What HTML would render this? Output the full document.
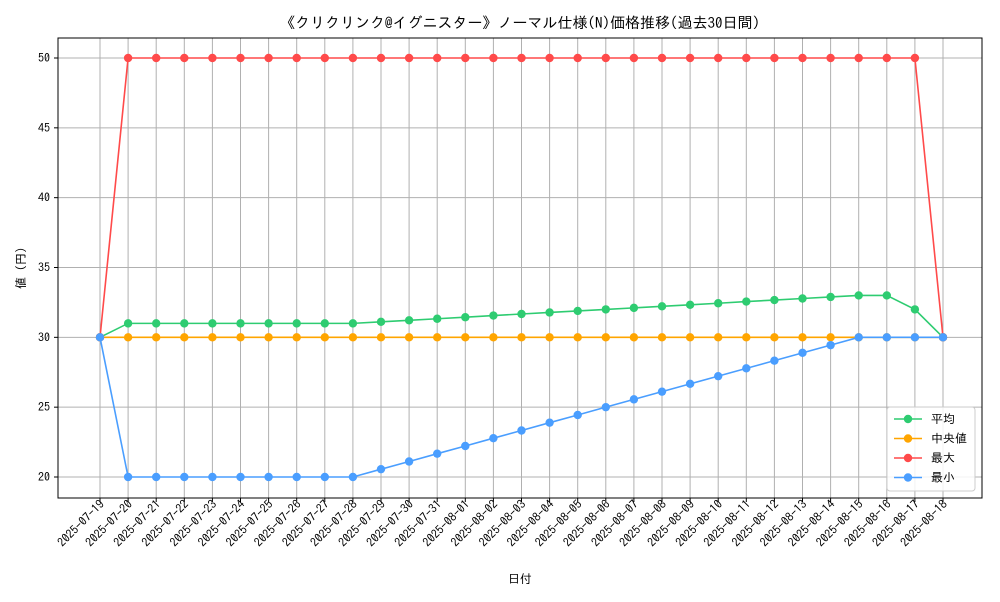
<!DOCTYPE html>
<html><head><meta charset="utf-8"><style>
body{margin:0;background:#fff;font-family:"IPAGothic","Noto Sans CJK JP",sans-serif;}
svg text{font-family:"IPAGothic","Noto Sans CJK JP",sans-serif;fill:#000;}
</style></head><body>
<svg id="chart" width="1000" height="600" xmlns="http://www.w3.org/2000/svg">
<rect width="1000" height="600" fill="#fff"/>
<text x="520" y="28" text-anchor="middle" font-size="15">《クリクリンク@イグニスター》ノーマル仕様(N)価格推移(過去30日間)</text>
<g id="grid"></g>
<g id="series"></g>
<rect x="58" y="38" width="924" height="460" fill="none" stroke="#000" stroke-width="1"/>
<g id="axes"></g>
<text x="520" y="583" text-anchor="middle" font-size="12">日付</text>
<text transform="translate(25,268) rotate(-90)" text-anchor="middle" font-size="12">値 (円)</text>
<g id="legend"></g>
</svg>
<script>
const dates=["2025-07-19","2025-07-20","2025-07-21","2025-07-22","2025-07-23","2025-07-24","2025-07-25","2025-07-26","2025-07-27","2025-07-28","2025-07-29","2025-07-30","2025-07-31","2025-08-01","2025-08-02","2025-08-03","2025-08-04","2025-08-05","2025-08-06","2025-08-07","2025-08-08","2025-08-09","2025-08-10","2025-08-11","2025-08-12","2025-08-13","2025-08-14","2025-08-15","2025-08-16","2025-08-17","2025-08-18"];
const avgVals=[30,31,31,31,31,31,31,31,31,31,31.11,31.22,31.33,31.44,31.56,31.67,31.78,31.89,32,32.11,32.22,32.33,32.44,32.56,32.67,32.78,32.89,33,33,32,30];
const medVals=[30,30,30,30,30,30,30,30,30,30,30,30,30,30,30,30,30,30,30,30,30,30,30,30,30,30,30,30,30,30,30];
const maxVals=[30,50,50,50,50,50,50,50,50,50,50,50,50,50,50,50,50,50,50,50,50,50,50,50,50,50,50,50,50,50,30];
const minVals=[30,20,20,20,20,20,20,20,20,20,20.56,21.11,21.67,22.22,22.78,23.33,23.89,24.44,25,25.56,26.11,26.67,27.22,27.78,28.33,28.89,29.44,30,30,30,30];
const yTicks=[20,25,30,35,40,45,50];
const seriesNames=["平均","中央値","最大","最小"];
const NS="http://www.w3.org/2000/svg";
const xS=i=>100+i*(943-100)/(dates.length-1);
const yS=v=>477-(v-20)*(477-58)/30;
function mk(t,a,p){const e=document.createElementNS(NS,t);for(const k in a)e.setAttribute(k,a[k]);p.appendChild(e);return e;}
const grid=document.getElementById('grid'),axes=document.getElementById('axes'),ser=document.getElementById('series'),leg=document.getElementById('legend');
dates.forEach((d,i)=>{
 const x=xS(i);
 const g=mk('line',{x1:x,x2:x,y1:38,y2:498,stroke:'#b0b0b0','stroke-width':1},grid);
 
 
 const t=mk('line',{x1:x,x2:x,y1:498,y2:502,stroke:'#000'},axes);
 
 
 const l=mk('text',{transform:`translate(${x+5},${505}) rotate(-45)`,'text-anchor':'end','font-size':12},axes);
 l.textContent=d;
 
 
});
yTicks.forEach(v=>{
 const y=yS(v);
 const g=mk('line',{x1:58,x2:982,y1:y,y2:y,stroke:'#b0b0b0','stroke-width':1},grid);
 
 
 const t=mk('line',{x1:54,x2:58,y1:y,y2:y,stroke:'#000'},axes);
 
 
 const l=mk('text',{x:50,y:y+4,'text-anchor':'end','font-size':12},axes);
 l.textContent=v;
 
 
});
const all=[avgVals,medVals,maxVals,minVals];
const colors=["#2ecc71","#ffa500","#ff4a4a","#4a9eff"];
all.forEach((vals,s)=>{
 const g=mk('g',{},ser);
 
 
 const pl=mk('polyline',{points:vals.map((v,i)=>xS(i)+','+yS(v)).join(' '),fill:'none',stroke:colors[s],'stroke-width':1.6},g);
 
 
 vals.forEach((v,i)=>{
  const c=mk('circle',{cx:xS(i),cy:yS(v),r:4.2,fill:colors[s]},g);
  
  
 });
});
const lb=mk('rect',{x:887,y:407,width:88,height:84,fill:'#fff','fill-opacity':0.85,stroke:'#ccc',rx:3},leg);


seriesNames.forEach((n,s)=>{
 const y=419+s*19.5;
 const g=mk('g',{},leg);
 
 
 mk('line',{x1:894,x2:922,y1:y,y2:y,stroke:colors[s],'stroke-width':1.6},g);
 mk('circle',{cx:908,cy:y,r:4.2,fill:colors[s]},g);
 const t=mk('text',{x:931,y:y+4,'font-size':12},g);
 t.textContent=n;
});
</script>
</body></html>
